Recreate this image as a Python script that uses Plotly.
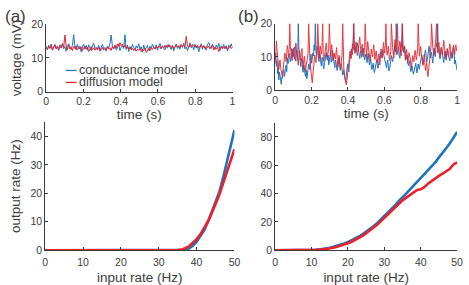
import plotly.graph_objects as go

# ---------------- data ----------------
# panel (a): membrane voltage (mV) sampled over 1 s
n_a = 150
time_a = [i / (n_a - 1) for i in range(n_a)]

volt_a_conductance = [
    13.5, 12.4, 13.8, 12.9, 14.1, 12.6, 13.2, 14.0, 12.8, 13.6, 12.2, 13.9, 13.1, 14.3, 12.7, 13.4, 12.0, 13.7, 14.2, 13.0,
    12.5, 13.8, 16.9, 13.2, 12.4, 14.0, 12.9, 13.5, 11.8, 13.3, 14.1, 12.6, 13.7, 12.3, 13.9, 13.0, 12.1, 13.6, 14.4, 12.8,
    13.2, 12.5, 13.8, 12.2, 13.4, 14.0, 12.7, 13.1, 12.0, 13.5, 12.9, 14.2, 16.8, 13.3, 12.6, 13.9, 12.4, 13.0, 14.1, 12.2,
    13.1, 13.6, 12.8, 16.9, 12.5, 13.8, 11.9, 13.4, 12.7, 14.0, 13.1, 12.3, 13.6, 12.9, 14.2, 12.6, 13.3, 11.7, 13.8, 12.4,
    13.0, 13.7, 12.2, 13.5, 12.8, 14.1, 13.2, 12.6, 13.9, 12.3, 13.4, 14.3, 12.7, 13.6, 13.0, 12.4, 13.8, 12.9, 14.0, 13.3,
    12.5, 13.7, 12.1, 13.2, 14.1, 12.8, 13.5, 12.6, 13.9, 13.1, 14.4, 12.7, 13.3, 12.2, 13.8, 14.5, 13.0, 13.6, 12.4, 14.0,
    12.9, 13.5, 11.8, 13.2, 14.2, 12.6, 13.7, 13.0, 12.3, 13.9, 14.6, 13.4, 12.8, 14.1, 13.2, 12.5, 13.8, 12.9, 14.3, 12.2,
    13.6, 13.0, 14.0, 12.7, 13.4, 12.1, 13.8, 13.3, 14.2, 12.9,
]
volt_a_diffusion = [
    13.0, 12.6, 13.4, 12.8, 13.7, 12.3, 13.1, 13.9, 12.7, 13.3, 12.5, 13.6, 12.9, 14.0, 13.2, 16.8, 13.5, 12.4, 13.8, 12.6,
    13.1, 12.2, 13.4, 12.8, 13.6, 12.4, 13.0, 12.7, 13.3, 12.1, 12.9, 13.5, 12.6, 13.2, 11.9, 12.8, 13.4, 12.5, 13.0, 12.3,
    12.9, 12.4, 13.2, 12.0, 12.7, 13.1, 12.3, 12.8, 12.5, 13.3, 12.6, 13.0, 12.2, 13.5, 12.8, 13.7, 12.9, 14.2, 13.4, 14.5,
    13.6, 14.1, 13.2, 13.8, 12.9, 13.4, 12.6, 13.1, 12.4, 12.9, 12.2, 12.7, 12.0, 12.6, 12.3, 12.8, 11.9, 12.5, 12.2, 12.9,
    11.6, 12.4, 12.8, 12.1, 13.0, 12.5, 13.2, 12.7, 13.4, 12.9, 13.6, 13.1, 12.8, 13.5, 12.9, 13.7, 13.2, 13.9, 13.3, 13.8,
    13.0, 13.6, 12.8, 13.4, 13.9, 13.2, 13.7, 13.1, 14.0, 13.4, 13.8, 13.3, 16.4, 13.6, 13.1, 13.9, 13.4, 14.1, 13.5, 13.8,
    13.2, 13.7, 12.9, 13.5, 13.9, 13.1, 13.6, 12.8, 13.4, 13.0, 13.5, 12.7, 13.3, 13.8, 12.4, 13.2, 12.6, 13.1, 11.9, 12.8,
    13.4, 12.7, 13.2, 12.9, 13.6, 12.5, 13.1, 13.4, 12.8, 13.2,
]

# panel (b): membrane voltage (mV) sampled over 1 s
n_b = 300
time_b = [i / (n_b - 1) for i in range(n_b)]

volt_b_conductance = [
    9.5, 11.2, 7.2, 8.9, 5.0, 6.8, 3.1, 5.4, 4.5, 2.6, 1.8, 3.9, 3.6, 5.7, 6.2,
    4.1, 4.8, 6.9, 7.5, 5.6, 9.8, 8.0, 8.2, 10.4, 11.0, 8.6, 9.4, 12.5, 12.3, 10.2,
    10.1, 12.6, 13.0, 9.8, 8.7, 11.9, 11.5, 9.2, 20.0, 12.4, 9.6, 8.1, 7.1, 9.5, 8.8,
    6.3, 5.4, 7.6, 6.9, 4.8, 4.2, 6.0, 3.5, 4.6, 5.8, 7.9, 7.4, 6.2, 9.9, 10.8,
    8.1, 9.6, 11.2, 10.3, 13.6, 12.0, 20.0, 11.7, 10.4, 13.1, 12.8, 9.9, 8.6, 11.4, 10.9,
    8.2, 7.3, 9.8, 9.7, 7.0, 6.4, 8.3, 8.9, 10.6, 11.3, 9.4, 9.0, 10.5, 7.6, 8.7,
    10.2, 11.6, 8.4, 9.1, 12.0, 10.6, 9.3, 7.2, 6.8, 9.0, 8.5, 6.7, 5.9, 7.3, 7.7,
    9.8, 8.4, 6.3, 7.1, 8.0, 5.9, 4.6, 5.3, 6.1, 4.2, 3.2, 2.4, 4.9, 6.3, 7.8,
    6.6, 5.5, 8.1, 9.6, 11.3, 12.4, 10.9, 10.7, 13.0, 20.0, 12.2, 13.1, 11.9, 11.4, 12.8,
    14.2, 13.0, 12.0, 10.4, 9.5, 11.0, 11.8, 9.9, 10.3, 12.1, 12.6, 10.8, 9.1, 10.0, 10.8,
    9.6, 8.3, 10.2, 11.1, 8.9, 7.6, 8.5, 9.4, 7.4, 6.2, 7.0, 8.1, 6.4, 5.3, 6.1,
    7.0, 8.6, 9.2, 7.5, 6.6, 8.0, 8.8, 10.3, 11.5, 9.7, 9.9, 11.3, 12.2, 11.0, 10.0,
    9.1, 8.4, 7.3, 6.7, 8.2, 9.0, 7.1, 5.8, 6.5, 7.3, 8.8, 10.4, 9.3, 8.6, 10.1,
    11.9, 12.8, 13.5, 11.6, 20.0, 12.3, 10.8, 11.9, 12.7, 10.2, 9.6, 12.5, 14.1, 13.0, 20.0,
    12.1, 11.3, 12.4, 13.0, 10.7, 9.2, 10.1, 10.6, 8.3, 7.4, 8.0, 8.9, 6.8, 5.6, 6.3,
    7.2, 5.9, 4.8, 5.5, 6.5, 7.6, 8.1, 6.6, 5.2, 6.4, 7.9, 7.0, 6.3, 7.8, 8.7,
    9.6, 10.5, 8.9, 7.8, 8.6, 9.9, 11.0, 12.1, 10.3, 8.5, 9.2, 10.8, 12.0, 13.2, 11.4,
    9.7, 10.6, 11.4, 9.5, 8.2, 10.1, 12.6, 11.3, 10.1, 12.2, 14.0, 13.1, 20.0, 12.5, 11.7,
    10.3, 9.4, 11.6, 12.9, 11.8, 10.6, 9.1, 8.3, 10.0, 11.8, 10.4, 9.1, 11.1, 12.4, 11.0,
    10.2, 9.3, 8.8, 10.1, 11.5, 10.3, 9.6, 11.4, 13.0, 11.2, 7.9, 9.0, 7.4, 6.2, 6.0,
]
volt_b_diffusion = [
    8.0, 11.6, 14.8, 12.2, 10.5, 8.1, 6.3, 7.9, 9.1, 6.8, 5.2, 4.4, 3.9, 6.1, 7.7,
    9.6, 11.2, 10.1, 8.6, 11.0, 13.4, 11.9, 9.8, 12.4, 20.0, 13.1, 11.6, 10.2, 8.9, 11.3,
    12.7, 10.6, 9.3, 12.0, 14.1, 12.5, 10.8, 9.2, 7.5, 9.8, 11.9, 10.4, 9.0, 11.6, 12.5,
    8.7, 6.8, 9.1, 10.2, 7.6, 5.5, 7.3, 8.4, 10.1, 11.0, 20.0, 12.3, 9.7, 7.0, 4.3,
    3.1, 2.2, 4.6, 6.9, 8.8, 10.6, 9.2, 8.3, 10.5, 12.1, 20.0, 11.4, 9.6, 12.0, 13.3,
    11.8, 10.9, 12.7, 20.0, 10.2, 8.7, 10.1, 11.5, 13.0, 14.2, 11.7, 9.9, 11.4, 12.6, 20.0,
    11.8, 10.3, 12.2, 13.7, 11.4, 8.8, 10.0, 11.2, 9.7, 9.4, 11.3, 12.8, 9.6, 7.1, 8.6,
    10.5, 8.1, 6.0, 7.4, 8.9, 10.8, 20.0, 9.4, 5.2, 4.1, 3.4, 2.6, 1.6, 3.0, 4.8,
    6.5, 8.2, 10.3, 11.7, 10.6, 9.5, 11.8, 13.9, 12.2, 20.0, 12.6, 11.0, 13.1, 14.5, 12.3,
    10.4, 11.6, 12.7, 14.3, 16.0, 13.4, 11.3, 12.5, 13.8, 11.7, 10.1, 11.4, 12.9, 20.0, 11.6,
    9.8, 12.0, 14.6, 13.2, 11.5, 10.3, 8.7, 10.6, 12.3, 11.1, 10.0, 12.4, 13.6, 11.2, 9.2,
    10.7, 11.8, 9.9, 8.4, 9.8, 10.9, 8.9, 7.6, 9.9, 12.4, 10.8, 9.7, 12.1, 14.3, 12.6,
    11.1, 13.5, 20.0, 12.2, 10.5, 11.9, 13.2, 10.7, 8.9, 10.4, 11.7, 20.0, 13.1, 12.8, 11.0,
    9.6, 12.5, 15.2, 12.9, 10.7, 11.8, 20.0, 13.3, 12.1, 13.6, 14.7, 12.2, 10.3, 12.4, 20.0,
    11.9, 12.6, 13.4, 11.0, 9.0, 10.8, 12.2, 10.1, 8.1, 9.7, 11.3, 10.2, 9.5, 7.8, 6.7,
    8.5, 10.4, 9.3, 8.6, 10.5, 12.0, 10.4, 9.1, 10.6, 11.6, 20.0, 12.4, 10.2, 11.7, 13.1,
    11.3, 9.8, 8.5, 7.4, 9.0, 10.7, 8.2, 5.9, 7.1, 8.3, 6.0, 4.1, 5.6, 7.2, 9.3,
    11.4, 13.0, 20.0, 14.1, 12.9, 11.6, 10.5, 12.0, 13.8, 15.4, 20.0, 13.0, 11.2, 12.9, 14.4,
    12.1, 9.9, 11.3, 12.7, 11.4, 10.6, 12.8, 15.0, 13.2, 11.8, 10.4, 9.3, 11.0, 12.5, 10.8,
    10.1, 12.3, 13.9, 12.0, 11.0, 9.6, 11.7, 12.2, 13.5, 11.4, 10.7, 12.8, 13.6, 11.9, 12.2,
]

# bottom panels: output rate (Hz) vs input rate (Hz)
input_rate = list(range(0, 51))
rate_a_conductance = [0.0] * 35 + [
    0.02, 0.06, 0.2, 0.7, 1.6, 3.0, 4.8, 7.0, 10.0, 13.5, 17.0, 20.5, 25.5, 31.0, 36.5, 42.2]
rate_a_diffusion = [0.0] * 34 + [
    0.03, 0.1, 0.3, 0.7, 1.4, 2.5, 3.9, 5.6, 7.7, 10.1, 13.0, 16.0, 19.5, 23.5, 27.5, 31.5, 35.5]
rate_b_conductance = [0.0] * 8 + [
    0.05, 0.1, 0.2, 0.35, 0.6, 0.9, 1.3, 1.8, 2.4, 3.1, 3.9, 4.8, 5.8, 7.0, 8.3, 9.7, 11.3, 13.0,
    14.9, 16.9, 19.1, 21.5, 24.0, 26.5, 29.0, 31.8, 34.8, 37.8, 40.0, 42.8, 45.5, 48.0, 50.5,
    53.5, 56.5, 59.0, 62.0, 65.5, 68.5, 72.0, 75.5, 79.5, 83.5]
rate_b_diffusion = [0.0] * 9 + [
    0.05, 0.1, 0.2, 0.35, 0.6, 0.9, 1.3, 1.8, 2.4, 3.1, 3.9, 4.9, 6.0, 7.3, 8.7, 10.2, 12.0,
    13.8, 15.8, 18.0, 20.4, 23.0, 25.2, 27.5, 30.3, 32.8, 35.2, 37.0, 39.2, 40.5, 42.5, 43.0,
    44.5, 47.0, 49.0, 50.5, 52.5, 54.0, 55.5, 57.5, 60.5, 62.0]

series_names = ["conductance model", "diffusion model"]
x_ticks_time = [0, 0.2, 0.4, 0.6, 0.8, 1]
x_tick_text_time = ["0", "0.2", "0.4", "0.6", "0.8", "1"]

# ---------------- styling ----------------
W, H = 469, 285
BLUE = "#1f72bd"
RED = "#ee1f29"
AX = "#3a3a3a"
TXT = "#3c3c3c"
FONT = "Liberation Sans, Arial, Helvetica, sans-serif"


def px_x(p):
    return p / W


def px_y(p):
    return 1 - p / H


fig = go.Figure()

# top-left (a)
fig.add_trace(go.Scatter(x=time_a, y=volt_a_conductance, mode="lines", name=series_names[0],
                         line=dict(color=BLUE, width=1), xaxis="x", yaxis="y", showlegend=False))
fig.add_trace(go.Scatter(x=time_a, y=volt_a_diffusion, mode="lines", name=series_names[1],
                         line=dict(color=RED, width=1), xaxis="x", yaxis="y", showlegend=False))
# top-right (b)
fig.add_trace(go.Scatter(x=time_b, y=volt_b_conductance, mode="lines", name=series_names[0],
                         line=dict(color=BLUE, width=1), xaxis="x2", yaxis="y2", showlegend=False))
fig.add_trace(go.Scatter(x=time_b, y=volt_b_diffusion, mode="lines", name=series_names[1],
                         line=dict(color=RED, width=1), xaxis="x2", yaxis="y2", showlegend=False,
                         opacity=0.9))
# bottom-left
fig.add_trace(go.Scatter(x=input_rate, y=rate_a_conductance, mode="lines", name=series_names[0],
                         line=dict(color=BLUE, width=2.6), xaxis="x3", yaxis="y3", showlegend=False))
fig.add_trace(go.Scatter(x=input_rate, y=rate_a_diffusion, mode="lines", name=series_names[1],
                         line=dict(color=RED, width=2.6), xaxis="x3", yaxis="y3", showlegend=False))
# bottom-right
fig.add_trace(go.Scatter(x=input_rate, y=rate_b_conductance, mode="lines", name=series_names[0],
                         line=dict(color=BLUE, width=2.6), xaxis="x4", yaxis="y4", showlegend=False))
fig.add_trace(go.Scatter(x=input_rate, y=rate_b_diffusion, mode="lines", name=series_names[1],
                         line=dict(color=RED, width=2.6), xaxis="x4", yaxis="y4", showlegend=False))

tickfont = dict(family=FONT, size=10.5, color=TXT)
titlefont = dict(family=FONT, size=13.5, color=TXT)

common = dict(showline=True, linecolor=AX, linewidth=1, ticks="inside", ticklen=3,
              tickcolor=AX, tickwidth=1, showgrid=False, zeroline=False, tickfont=tickfont,
              fixedrange=True)

fig.update_layout(
    width=W, height=H,
    margin=dict(l=0, r=0, t=0, b=0),
    paper_bgcolor="white", plot_bgcolor="white",
    font=dict(family=FONT, color=TXT),
    xaxis=dict(domain=[px_x(44), px_x(234)], range=[0, 1], anchor="y",
               tickvals=x_ticks_time, ticktext=x_tick_text_time,
               title=dict(text="time (s)", font=titlefont, standoff=2), **common),
    yaxis=dict(domain=[px_y(89.5), px_y(19)], range=[0, 20], anchor="x",
               tickvals=[0, 10, 20],
               title=dict(text="voltage (mV)", font=titlefont, standoff=6), **common),
    xaxis2=dict(domain=[px_x(277.5), px_x(463)], range=[0, 1], anchor="y2",
                tickvals=x_ticks_time, ticktext=x_tick_text_time,
                title=dict(text="time (s)", font=titlefont, standoff=2), **common),
    yaxis2=dict(domain=[px_y(88), px_y(18.3)], range=[0, 20], anchor="x2",
                tickvals=[0, 10, 20], **common),
    xaxis3=dict(domain=[px_x(43), px_x(236)], range=[0, 50], anchor="y3",
                tickvals=[0, 10, 20, 30, 40, 50], ticklabelstandoff=2,
                title=dict(text="input rate (Hz)", font=titlefont, standoff=5), **common),
    yaxis3=dict(domain=[px_y(255), px_y(121.3)], range=[0, 45], anchor="x3",
                tickvals=[0, 10, 20, 30, 40],
                title=dict(text="output rate (Hz)", font=titlefont, standoff=6), **common),
    xaxis4=dict(domain=[px_x(277.5), px_x(463)], range=[0, 50], anchor="y4",
                tickvals=[0, 10, 20, 30, 40, 50], ticklabelstandoff=2,
                title=dict(text="input rate (Hz)", font=titlefont, standoff=5), **common),
    yaxis4=dict(domain=[px_y(255), px_y(121.8)], range=[0, 90], anchor="x4",
                tickvals=[0, 20, 40, 60, 80], **common),
)

# panel labels
for label, xp in (("(a)", 13), ("(b)", 250)):
    fig.add_annotation(text=label, xref="paper", yref="paper", x=px_x(xp), y=px_y(11),
                       xanchor="center", yanchor="middle", showarrow=False,
                       font=dict(family=FONT, size=17, color=TXT))

# legend (drawn inside panel a)
for name, color, yp in ((series_names[0], BLUE, 67.3), (series_names[1], RED, 79.8)):
    fig.add_shape(type="line", xref="paper", yref="paper",
                  x0=px_x(64), x1=px_x(75), y0=px_y(yp), y1=px_y(yp),
                  line=dict(color=color, width=1.2))
    fig.add_annotation(text=name, xref="paper", yref="paper", x=px_x(75.5), y=px_y(yp),
                       xanchor="left", yanchor="middle", showarrow=False,
                       font=dict(family=FONT, size=12.5, color=TXT))

fig.write_html("out.html",
               config={"displayModeBar": False},
               post_script="document.body.style.margin='0';document.body.style.overflow='hidden';")
